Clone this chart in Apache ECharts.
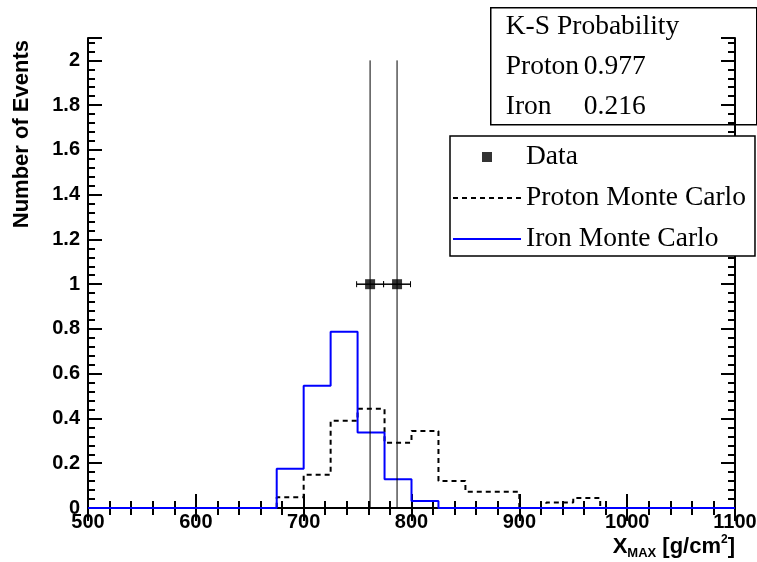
<!DOCTYPE html>
<html>
<head>
<meta charset="utf-8">
<script src="https://cdn.jsdelivr.net/npm/echarts@6/dist/echarts.min.js"></script>
<style>
  html, body { margin: 0; padding: 0; background: #fff; }
  #main { width: 757px; height: 562px; }
</style>
</head>
<body>
<div id="main"></div>
<script>
// bin edges of the histograms (g/cm2)
var binEdges = [500, 525, 550, 575, 600, 625, 650, 675, 700, 725, 750, 775, 800,
                825, 850, 875, 900, 925, 950, 975, 1000, 1025, 1050, 1075, 1100];
// proton monte carlo, normalised
var protonMC = [0, 0, 0, 0, 0, 0, 0, 0.048, 0.149, 0.39, 0.443, 0.292, 0.344,
                0.121, 0.073, 0.073, 0, 0.025, 0.045, 0, 0, 0, 0, 0];
// iron monte carlo, normalised
var ironMC = [0, 0, 0, 0, 0, 0, 0, 0.175, 0.546, 0.787, 0.337, 0.128, 0.031,
              0, 0, 0, 0, 0, 0, 0, 0, 0, 0, 0];
// measured events
var dataX = [761.6, 786.6];
var dataY = [1, 1];
var dataXErr = [12.5, 12.5];
var markerTop = 2;

var ksLabels = ['K-S Probability', 'Proton', 'Iron'];
var ksValues = ['', '0.977', '0.216'];

function stepData(vals) {
    var out = [];
    for (var i = 0; i < vals.length; i++) {
        out.push([binEdges[i], vals[i]]);
    }
    out.push([binEdges[binEdges.length - 1], vals[vals.length - 1]]);
    return out;
}

var pts = [];
for (var i = 0; i < dataX.length; i++) {
    pts.push([dataX[i], dataY[i], dataXErr[i]]);
}

var labelFont = {
    fontFamily: 'Liberation Sans',
    fontWeight: 'bold',
    fontSize: 20,
    color: '#000'
};
var serif = '27.5px "Liberation Serif"';

var myChart = echarts.init(document.getElementById('main'));

var option = {
    backgroundColor: '#fff',
    animation: false,
    grid: { left: 88, right: 22, top: 38, bottom: 54, outerBoundsMode: 'none' },
    legend: {
        left: 450,
        top: 136,
        orient: 'vertical',
        padding: [7, 9, 3, 2],
        itemGap: 13,
        itemWidth: 68,
        itemHeight: 10,
        itemTextGap: 7,
        backgroundColor: '#fff',
        borderColor: '#000',
        borderWidth: 1.5,
        borderRadius: 0,
        z: 20,
        textStyle: {
            fontFamily: 'Liberation Serif',
            fontSize: 27.5,
            lineHeight: 28,
            color: '#000'
        },
        data: [
            { name: 'Data', icon: 'path://M0,0L10,0L10,10L0,10Z' },
            { name: 'Proton Monte Carlo', itemStyle: { opacity: 0 } },
            { name: 'Iron Monte Carlo', itemStyle: { opacity: 0 } }
        ]
    },
    xAxis: [
        {
            type: 'value',
            min: 500,
            max: 1100,
            interval: 100,
            splitLine: { show: false },
            axisLine: { lineStyle: { color: '#000', width: 2 } },
            axisTick: { inside: true, length: 14, lineStyle: { color: '#000', width: 2 } },
            minorTick: { show: true, splitNumber: 5, length: 7, lineStyle: { color: '#000', width: 2 } },
            axisLabel: Object.assign({ margin: 4, formatter: function (v) { return String(v); } }, labelFont),
            name: '{a|X}{s|MAX}{a| [g/cm}{p|2}{a|]}',
            nameLocation: 'end',
            nameGap: 0,
            nameTextStyle: {
                align: 'right',
                verticalAlign: 'top',
                padding: [26, 0, 0, 0],
                rich: {
                    a: { fontFamily: 'Liberation Sans', fontWeight: 'bold', fontSize: 22, color: '#000', lineHeight: 26 },
                    s: { fontFamily: 'Liberation Sans', fontWeight: 'bold', fontSize: 13, color: '#000', lineHeight: 26, verticalAlign: 'bottom' },
                    p: { fontFamily: 'Liberation Sans', fontWeight: 'bold', fontSize: 12, color: '#000', lineHeight: 26, verticalAlign: 'top' }
                }
            }
        },
        {
            type: 'value',
            position: 'top',
            min: 500,
            max: 1100,
            interval: 100,
            splitLine: { show: false },
            axisLine: { lineStyle: { color: '#000', width: 2 } },
            axisTick: { inside: true, length: 13, lineStyle: { color: '#000', width: 2 } },
            minorTick: { show: true, splitNumber: 5, length: 7, lineStyle: { color: '#000', width: 2 } },
            axisLabel: { show: false }
        }
    ],
    yAxis: [
        {
            type: 'value',
            min: 0,
            max: 2.1,
            interval: 0.2,
            splitLine: { show: false },
            axisLine: { lineStyle: { color: '#000', width: 2 } },
            axisTick: { inside: true, length: 14, lineStyle: { color: '#000', width: 2 } },
            minorTick: { show: true, splitNumber: 5, length: 7, lineStyle: { color: '#000', width: 2 } },
            axisLabel: Object.assign({ margin: 8, showMaxLabel: false }, labelFont),
            name: 'Number of Events',
            nameLocation: 'end',
            nameGap: -2,
            nameRotate: 90,
            nameTextStyle: {
                fontFamily: 'Liberation Sans',
                fontWeight: 'bold',
                fontSize: 22,
                color: '#000',
                align: 'right',
                verticalAlign: 'bottom',
                padding: [0, 0, 55, 0]
            }
        },
        {
            type: 'value',
            position: 'right',
            min: 0,
            max: 2.1,
            interval: 0.2,
            splitLine: { show: false },
            axisLine: { lineStyle: { color: '#000', width: 2 } },
            axisTick: { inside: true, length: 14, lineStyle: { color: '#000', width: 2 } },
            minorTick: { show: true, splitNumber: 5, length: 7, lineStyle: { color: '#000', width: 2 } },
            axisLabel: { show: false }
        }
    ],
    series: [
        {
            name: 'Proton Monte Carlo',
            type: 'line',
            step: 'end',
            symbol: 'none',
            color: '#000',
            lineStyle: { color: '#000', width: 2, type: [5, 4] },
            data: stepData(protonMC),
            z: 3
        },
        {
            name: 'Iron Monte Carlo',
            type: 'line',
            step: 'end',
            symbol: 'none',
            color: '#0000ff',
            lineStyle: { color: '#0000ff', width: 2 },
            data: stepData(ironMC),
            z: 4
        },
        {
            name: 'markers',
            type: 'custom',
            data: pts,
            z: 5,
            renderItem: function (params, api) {
                var x = api.value(0), y = api.value(1), ex = api.value(2);
                var p0 = api.coord([x, 0]);
                var pTop = api.coord([x, markerTop]);
                var pl = api.coord([x - ex, y]);
                var pr = api.coord([x + ex, y]);
                return {
                    type: 'group',
                    children: [
                        { type: 'line', shape: { x1: p0[0], y1: p0[1], x2: pTop[0], y2: pTop[1] },
                          style: { stroke: '#000', lineWidth: 1 } },
                        { type: 'line', shape: { x1: pl[0], y1: pl[1], x2: pr[0], y2: pr[1] },
                          style: { stroke: '#000', lineWidth: 1.5 } },
                        { type: 'line', shape: { x1: pl[0], y1: pl[1] - 3, x2: pl[0], y2: pl[1] + 3 },
                          style: { stroke: '#000', lineWidth: 1 } },
                        { type: 'line', shape: { x1: pr[0], y1: pr[1] - 3, x2: pr[0], y2: pr[1] + 3 },
                          style: { stroke: '#000', lineWidth: 1 } }
                    ]
                };
            }
        },
        {
            name: 'Data',
            type: 'scatter',
            symbol: 'rect',
            symbolSize: 10,
            color: '#000',
            data: pts.map(function (p) { return [p[0], p[1]]; }),
            z: 6
        }
    ],
    graphic: [
        {
            type: 'group',
            left: 490,
            top: 7,
            z: 30,
            children: [
                { type: 'rect', shape: { x: 0, y: 0, width: 266, height: 117 },
                  style: { fill: '#fff', stroke: '#000', lineWidth: 1.5 } },
                { type: 'text', x: 15, y: 19,
                  style: { text: ksLabels[0], font: serif, fill: '#000', verticalAlign: 'middle' } },
                { type: 'text', x: 15, y: 59,
                  style: { text: ksLabels[1], font: serif, fill: '#000', verticalAlign: 'middle' } },
                { type: 'text', x: 93, y: 59,
                  style: { text: ksValues[1], font: serif, fill: '#000', verticalAlign: 'middle' } },
                { type: 'text', x: 15, y: 99,
                  style: { text: ksLabels[2], font: serif, fill: '#000', verticalAlign: 'middle' } },
                { type: 'text', x: 93, y: 99,
                  style: { text: ksValues[2], font: serif, fill: '#000', verticalAlign: 'middle' } }
            ]
        }
    ]
};

myChart.setOption(option);
</script>
</body>
</html>
